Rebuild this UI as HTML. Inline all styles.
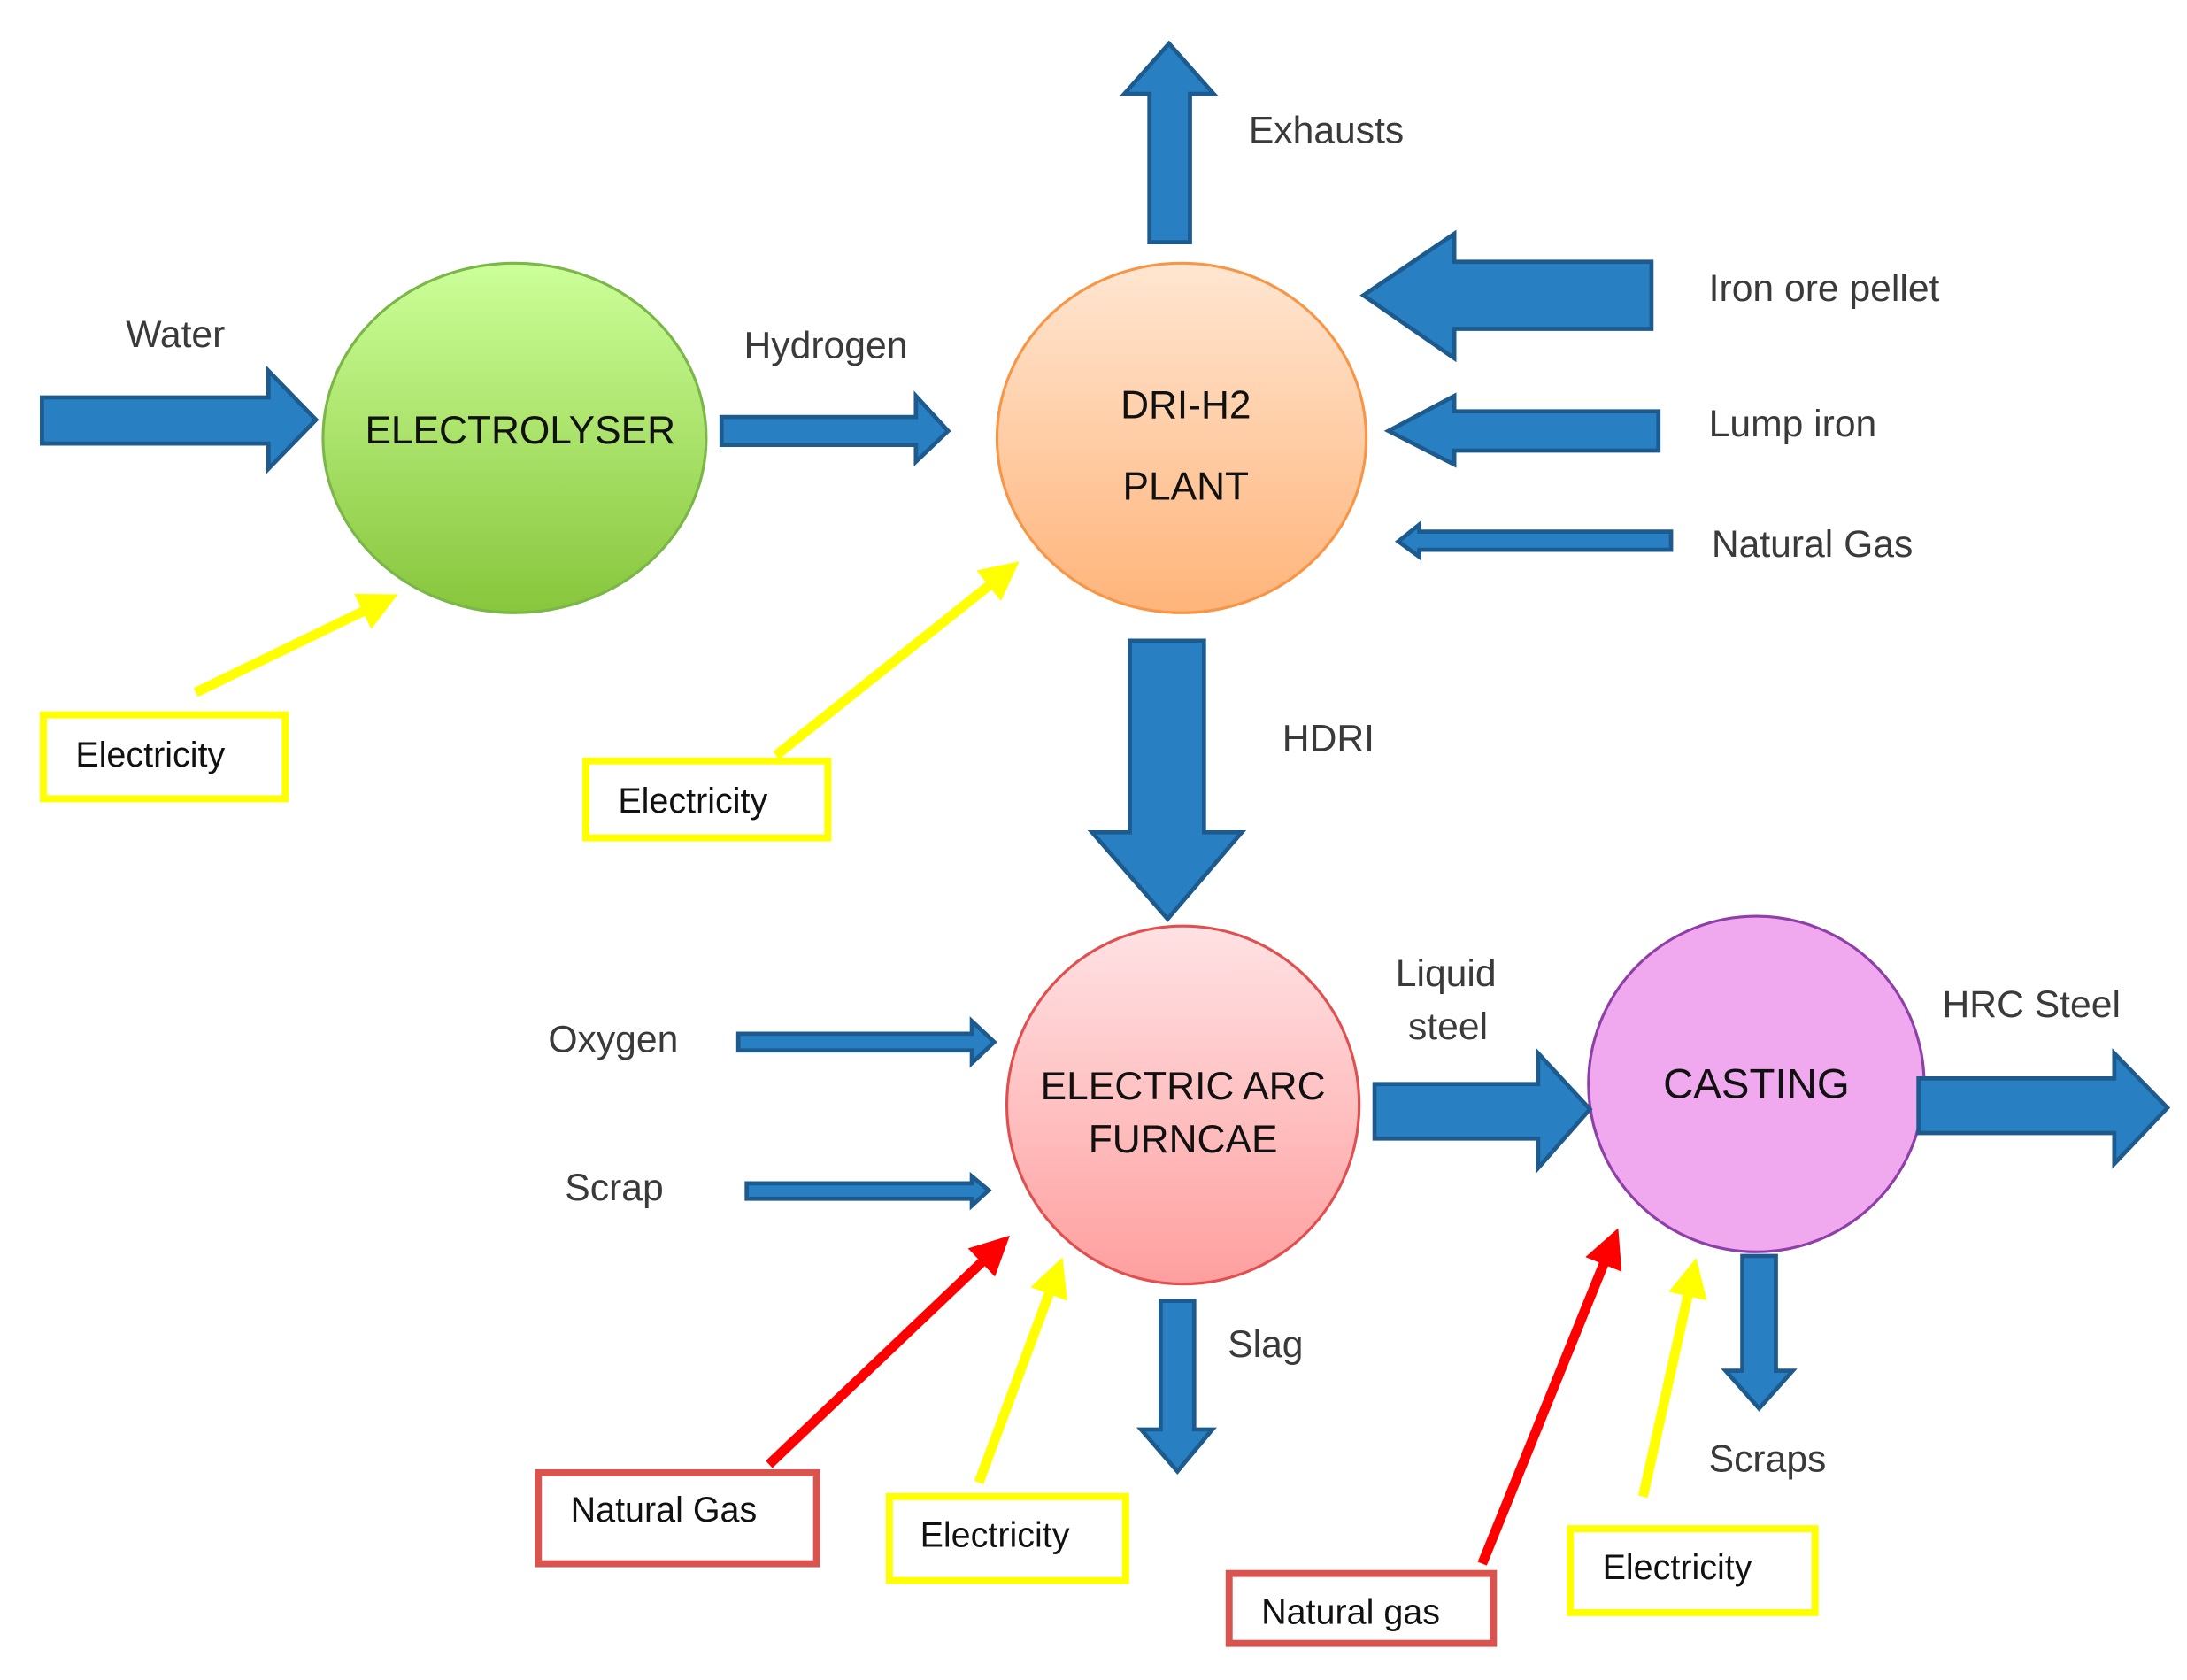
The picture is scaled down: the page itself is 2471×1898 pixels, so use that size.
<!DOCTYPE html>
<html><head><meta charset="utf-8"><style>
html,body{margin:0;padding:0;background:#fff;}
svg{display:block;}
.l{font-family:"Liberation Sans",sans-serif;font-size:27px;fill:#3a3a3a;}
.n{font-family:"Liberation Sans",sans-serif;font-size:28px;fill:#111;text-anchor:middle;}
.b{font-family:"Liberation Sans",sans-serif;font-size:25px;fill:#111;}
.ar{fill:#2880c2;stroke:#1d5b8f;stroke-width:3;stroke-linejoin:miter;}
</style></head><body>
<svg width="2471" height="1898" viewBox="0 0 1564 1201" xmlns="http://www.w3.org/2000/svg">
<defs>
<linearGradient id="g1" x1="0" y1="0" x2="0" y2="1"><stop offset="0" stop-color="#ccff99"/><stop offset="1" stop-color="#88c63c"/></linearGradient>
<linearGradient id="g2" x1="0" y1="0" x2="0" y2="1"><stop offset="0" stop-color="#ffe6d2"/><stop offset="1" stop-color="#ffb47a"/></linearGradient>
<linearGradient id="g3" x1="0" y1="0" x2="0" y2="1"><stop offset="0" stop-color="#ffe2e4"/><stop offset="1" stop-color="#ff9f9f"/></linearGradient>
<marker id="my" markerWidth="4" markerHeight="4" refX="2" refY="2" orient="auto" markerUnits="strokeWidth"><path d="M0,0 L4,2 L0,4 z" fill="#ffff00"/></marker>
<marker id="mr" markerWidth="4" markerHeight="4" refX="2" refY="2" orient="auto" markerUnits="strokeWidth"><path d="M0,0 L4,2 L0,4 z" fill="#ff0000"/></marker>
</defs>

<!-- nodes -->
<ellipse cx="368" cy="313" rx="137" ry="125" fill="url(#g1)" stroke="#7ab648" stroke-width="2"/>
<text class="n" x="372" y="317">ELECTROLYSER</text>
<ellipse cx="845" cy="313" rx="132" ry="125" fill="url(#g2)" stroke="#f79646" stroke-width="2"/>
<text class="n" x="848" y="299">DRI-H2</text>
<text class="n" x="848" y="357">PLANT</text>
<ellipse cx="846" cy="790" rx="126" ry="128" fill="url(#g3)" stroke="#e05050" stroke-width="2"/>
<text class="n" x="846" y="786">ELECTRIC ARC</text>
<text class="n" x="846" y="824">FURNCAE</text>
<ellipse cx="1256" cy="775" rx="120" ry="120" fill="#f0a8ee" stroke="#8e3fa8" stroke-width="2"/>
<text class="n" x="1256" y="785" style="font-size:30px">CASTING</text>

<!-- blue arrows -->
<path class="ar" d="M30,284 H192 V265 L226,300 L192,335 V317 H30 Z"/>
<path class="ar" d="M516,298 H655 V283 L678,308 L655,330 V318 H516 Z"/>
<path class="ar" d="M822,173 V67 H804 L836,31 L868,67 H851 V173 Z"/>
<path class="ar" d="M1181,187 V235 H1040 V256 L975,211 L1040,167 V187 Z"/>
<path class="ar" d="M1186,294 V322 H1040 V332 L993,308 L1040,283 V294 Z"/>
<path class="ar" d="M1195,380 V393 H1015 V398 L1000,387 L1015,375 V380 Z"/>
<path class="ar" d="M808,458 H861 V595 H888 L835,657 L781,595 H808 Z"/>
<path class="ar" d="M528,739 H695 V730 L711,745 L695,760 V751 H528 Z"/>
<path class="ar" d="M534,846 H695 V841 L707,851 L695,862 V857 H534 Z"/>
<path class="ar" d="M983,775 H1100 V753 L1137,793 L1100,835 V814 H983 Z"/>
<path class="ar" d="M1372,771 H1512 V753 L1550,792 L1512,832 V810 H1372 Z"/>
<path class="ar" d="M830,930 H854 V1022 H867 L842,1052 L816,1022 H830 Z"/>
<path class="ar" d="M1246,898 H1270 V980 H1282 L1258,1007 L1234,980 H1246 Z"/>

<!-- labels -->
<text class="l" x="90" y="248">Water</text>
<text class="l" x="532" y="256">Hydrogen</text>
<text class="l" x="893" y="102">Exhausts</text>
<text class="l" x="1222" y="215">Iron ore pellet</text>
<text class="l" x="1222" y="312">Lump iron</text>
<text class="l" x="1224" y="398">Natural Gas</text>
<text class="l" x="917" y="537">HDRI</text>
<text class="l" x="392" y="752">Oxygen</text>
<text class="l" x="404" y="858">Scrap</text>
<text class="l" x="998" y="705">Liquid</text>
<text class="l" x="1007" y="743">steel</text>
<text class="l" x="1389" y="727">HRC Steel</text>
<text class="l" x="878" y="970">Slag</text>
<text class="l" x="1222" y="1052">Scraps</text>

<!-- thin arrows -->
<line x1="140" y1="495" x2="272" y2="431" stroke="#ffff00" stroke-width="7" marker-end="url(#my)"/>
<line x1="555" y1="540" x2="718" y2="410" stroke="#ffff00" stroke-width="7" marker-end="url(#my)"/>
<line x1="550" y1="1047" x2="712" y2="893" stroke="#ff0000" stroke-width="7" marker-end="url(#mr)"/>
<line x1="700" y1="1060" x2="755" y2="912" stroke="#ffff00" stroke-width="7" marker-end="url(#my)"/>
<line x1="1060" y1="1118" x2="1152" y2="891" stroke="#ff0000" stroke-width="7" marker-end="url(#mr)"/>
<line x1="1175" y1="1070" x2="1210" y2="913" stroke="#ffff00" stroke-width="7" marker-end="url(#my)"/>

<!-- boxes -->
<rect x="31" y="511" width="173" height="60" fill="#fff" stroke="#ffff00" stroke-width="5"/>
<text class="b" x="54" y="548">Electricity</text>
<rect x="419" y="544" width="173" height="55" fill="#fff" stroke="#ffff00" stroke-width="5"/>
<text class="b" x="442" y="581">Electricity</text>
<rect x="385" y="1053" width="199" height="65" fill="#fff" stroke="#d9534f" stroke-width="5"/>
<text class="b" x="408" y="1088">Natural Gas</text>
<rect x="636" y="1070" width="169" height="60" fill="#fff" stroke="#ffff00" stroke-width="5"/>
<text class="b" x="658" y="1106">Electricity</text>
<rect x="879" y="1125" width="189" height="50" fill="#fff" stroke="#d9534f" stroke-width="5"/>
<text class="b" x="902" y="1161">Natural gas</text>
<rect x="1123" y="1093" width="175" height="60" fill="#fff" stroke="#ffff00" stroke-width="5"/>
<text class="b" x="1146" y="1129">Electricity</text>
</svg>
</body></html>
